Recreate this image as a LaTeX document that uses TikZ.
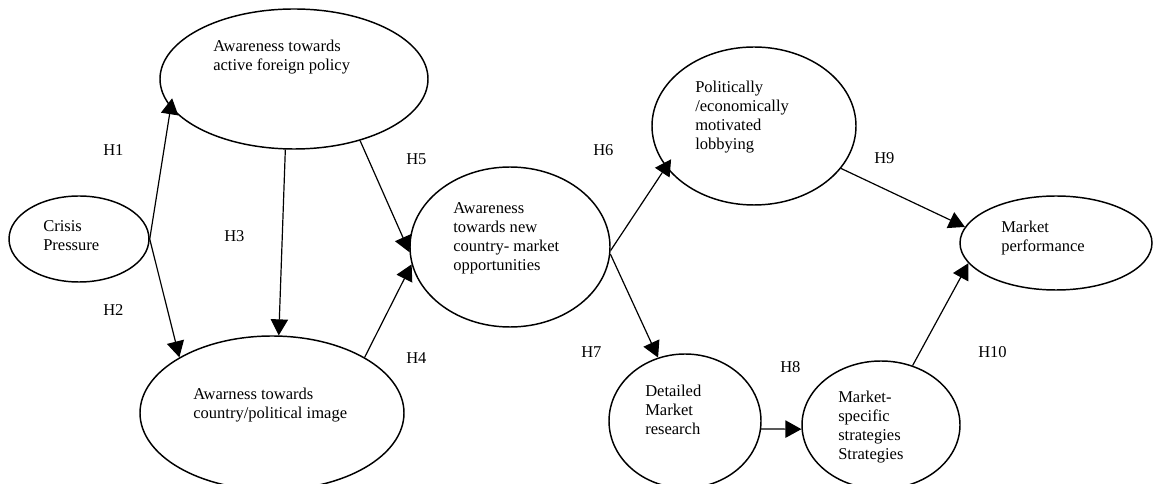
\documentclass[tikz,border=0pt]{standalone}
\usepackage{fontspec}
\setmainfont{Liberation Serif}
\usepackage{tikz}
\usetikzlibrary{shapes.geometric,arrows.meta}

\tikzset{
  oval/.style={draw, ellipse, inner sep=0pt, line width=1.1pt},
  txt/.style={anchor=north west, inner sep=0pt, align=left,
    font=\fontsize{12.4}{14.25}\selectfont},
  hlab/.style={anchor=west, inner sep=0pt, font=\fontsize{12.4}{14.25}\selectfont},
  hyp/.style={-{Triangle[length=12pt,width=13pt]}, line width=0.9pt}
}

\begin{document}
\begin{tikzpicture}[x=0.75pt,y=-0.75pt]
  \useasboundingbox (0,0) rectangle (1153,484);
  \clip (0,0) rectangle (1153,484);
  % constructs
  \node[oval,minimum width=105pt,minimum height=64.5pt] (crisis) at (79,239) {};
  \node[oval,minimum width=201pt,minimum height=105pt] (afp) at (294,79) {};
  \node[oval,minimum width=198pt,minimum height=115.5pt] (aci) at (272,413) {};
  \node[oval,minimum width=150pt,minimum height=120pt] (opp) at (510,247) {};
  \node[oval,minimum width=153pt,minimum height=118.5pt] (pol) at (754,126) {};
  \node[oval,minimum width=144pt,minimum height=70.5pt] (perf) at (1056,243) {};
  \node[oval,minimum width=114pt,minimum height=100.5pt] (det) at (685,421) {};
  \node[oval,minimum width=118.5pt,minimum height=96pt] (strat) at (881,425) {};
  % texts inside the ovals
  \node[txt] (crisis-t) at (43,220) {Crisis\\Pressure};
  \node[txt] (afp-t) at (213,40) {Awareness towards\\active foreign policy};
  \node[txt] (aci-t) at (193,388) {Awarness towards\\country/political image};
  \node[txt] (opp-t) at (453,202) {Awareness\\towards new\\country- market\\opportunities};
  \node[txt] (pol-t) at (695,81) {Politically\\/economically\\motivated\\lobbying};
  \node[txt] (perf-t) at (1001,221) {Market\\performance};
  \node[txt] (det-t) at (645,385) {Detailed\\Market\\research};
  \node[txt] (strat-t) at (838,391) {Market-\\specific\\strategies\\Strategies};
  % hypotheses
  \draw[hyp,shorten >=-7pt] (crisis.east) -- (afp.193.5);
  \draw[hyp] (crisis.east) -- (aci.149);
  \draw[hyp] (afp.263) -- (aci.85.5);
  \draw[hyp] (afp.317.5) -- (opp.183);
  \draw[hyp] (aci.31.7) -- (opp.190);
  \draw[hyp,shorten >=-7pt] (opp.358) -- (pol.205.8);
  \draw[hyp] (opp.356) -- (det.113.3);
  \draw[hyp] (det.354) -- (strat.183);
  \draw[hyp] (pol.334.5) -- (perf.170.3);
  \draw[hyp] (strat.62.2) -- (perf.193.5);
  % labels
  \node[hlab] (h1) at (103,150) {H1};
  \node[hlab] (h2) at (103,310) {H2};
  \node[hlab] (h3) at (224,236) {H3};
  \node[hlab] (h4) at (406,358) {H4};
  \node[hlab] (h5) at (406,159) {H5};
  \node[hlab] (h6) at (593,150) {H6};
  \node[hlab] (h7) at (581,352) {H7};
  \node[hlab] (h8) at (780,367) {H8};
  \node[hlab] (h9) at (874,158) {H9};
  \node[hlab] (h10) at (978,352) {H10};
\end{tikzpicture}
\end{document}
